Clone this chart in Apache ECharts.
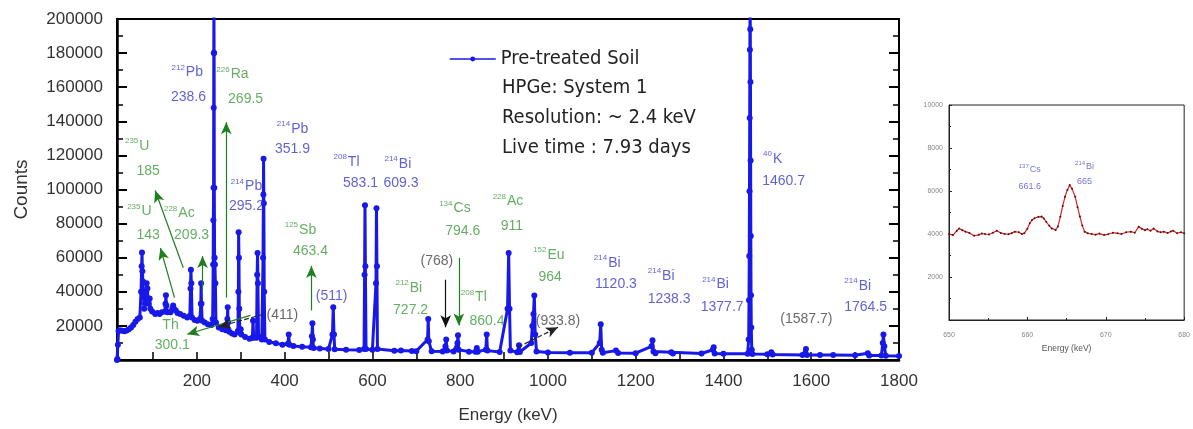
<!DOCTYPE html>
<html>
<head>
<meta charset="utf-8">
<script src="https://cdn.jsdelivr.net/npm/echarts@6/dist/echarts.min.js"></script>
<style>
  html, body { margin: 0; padding: 0; background: #fff; }
  #chart { width: 1193px; height: 429px; }
</style>
</head>
<body>
<div id="chart"></div>
<script>
// spectrum, [energy keV, counts]
const spectrumLow = [
  [18, 0], [19, 600], [20, 9000], [21.5, 17000], [25, 17500], [30, 17200], [35, 16800], [40, 17300],
  [45, 18000], [50, 19000], [55, 20500], [60, 22500], [65, 24000], [70, 25000], [72.8, 40000],
  [74.2, 55000], [75, 63000], [75.8, 52000], [77.1, 46000], [78.5, 38000], [80, 30000], [82, 33000],
  [84.5, 40000], [85.5, 45000], [87.3, 42000], [88.5, 36000], [90, 33000], [92.5, 36000], [94, 30000],
  [98, 28500], [105, 27000], [110, 27500], [115, 27000], [120, 28000], [127, 28500], [128.5, 33000],
  [129.5, 38000], [130.5, 32000], [133, 28000], [140, 28000], [144, 30000], [146, 32000], [148, 30000],
  [152, 29000], [156, 27500], [162, 27000], [170, 26000], [178, 25000], [184, 26000], [185.5, 42000],
  [186.4, 53000], [187.4, 45000], [189, 25000], [195, 23500], [201, 23000], [207, 24000], [209, 33000],
  [209.7, 45000], [210.5, 33000], [212, 23000], [218, 22000], [225, 21000], [233, 20500], [236, 24000],
  [237.2, 56000], [237.6, 82000], [238.1, 101000], [238.4, 148000], [238.6, 180000], [238.8, 215000],
  [239.3, 180000], [239.7, 101000], [240.4, 60000], [241.2, 56000], [242.2, 45000], [243.5, 22000]
];
const spectrumMid = [
  [250, 19000], [258, 18000], [266, 17500], [269.5, 24000], [270.3, 31000], [271, 22000], [274, 16500],
  [280, 15500], [286, 15000], [293.5, 17000], [294.6, 40000], [295.2, 75000], [295.9, 60000],
  [296.7, 30000], [298, 16000], [300, 18000], [301.5, 15000], [310, 13500], [320, 12500], [326.5, 13000],
  [328, 23000], [329.5, 13000], [336, 13000], [337.4, 50000], [338.3, 62800], [339.1, 45000],
  [340.5, 14000], [348, 12000], [350.8, 60000], [351.6, 97000], [352, 118000], [352.6, 92000],
  [353.5, 40000], [355, 12000], [365, 10500], [380, 9800], [395, 9000], [407.5, 9500], [409.3, 15000],
  [411, 9000], [420, 8200], [440, 7800], [460, 7500], [462.2, 14000], [463.3, 21500], [464.4, 12000],
  [466, 7000], [480, 6800], [500, 6500], [509, 15000], [510.8, 31000], [512.5, 15000], [514, 6300],
  [540, 6000], [570, 5800], [581, 6500], [582.2, 50000], [583.1, 90700], [584, 55000], [585.5, 6500],
  [600, 6000], [608.2, 45000], [609.3, 89000], [610.3, 55000], [611.5, 6500], [650, 5400], [665, 5500],
  [690, 5300]
];
const spectrumHigh = [
  [700, 5200], [725.8, 12000], [727.2, 24000], [728.5, 11000], [735, 5100], [760, 5000], [766.5, 8000],
  [768.2, 12000], [769.8, 5500], [785, 5000], [793.8, 10000], [795, 14500], [796.5, 6000], [820, 4900],
  [835, 4900], [838, 7000], [840, 4900], [858.5, 6000], [860.5, 15000], [862.2, 5500], [890, 4700],
  [908, 30000], [910.5, 62800], [912.5, 30000], [914.5, 5500], [930, 4600], [934, 8700], [936, 4700],
  [962, 10000], [964.5, 20000], [967, 27000], [969, 37800], [971, 15000], [974, 5000], [1000, 4400],
  [1050, 4300], [1100, 4300], [1118, 10000], [1120.3, 21000], [1122.5, 6000], [1125, 4200],
  [1155, 5500], [1160, 4100], [1200, 4000], [1236, 8000], [1238.3, 11600], [1240.5, 5000], [1245, 3900],
  [1281, 4500], [1285, 3800], [1350, 3800], [1376, 6000], [1377.7, 7500], [1380, 3800], [1400, 3700],
  [1455, 3700], [1457.5, 12000], [1458.2, 35000], [1458.8, 61000], [1459.3, 99000], [1459.8, 142000],
  [1460.2, 182000], [1460.7, 215000], [1461.1, 194000], [1461.5, 163000], [1461.9, 117000],
  [1462.3, 72700], [1462.8, 38000], [1463.4, 19000], [1464.5, 6000], [1466, 3500], [1500, 3300],
  [1509, 4500], [1512, 3200], [1580, 3000], [1588, 6400], [1590.5, 3000], [1620, 2900], [1650, 3000],
  [1700, 2800], [1729, 4000], [1732, 2700], [1760, 2700], [1763, 10000], [1764.5, 15000],
  [1766.5, 8000], [1770, 2500], [1800, 2400]
];

// inset: zoom on 650-680 keV
const insetSpectrum = [
  [650, 4000], [650.5, 3950], [651, 4150], [651.3, 4260], [651.7, 4180], [652.1, 4110], [652.6, 4050],
  [653.2, 3920], [653.8, 3960], [654.2, 4020], [654.6, 4000], [655.1, 3980], [655.6, 4060], [656.1, 4150],
  [656.6, 4050], [657.1, 4000], [657.6, 3990], [658, 4040], [658.4, 4110], [658.9, 4080], [659.3, 4000],
  [659.6, 4030], [660, 4250], [660.3, 4500], [660.6, 4650], [660.9, 4730], [661.4, 4800], [661.8, 4810],
  [662.1, 4720], [662.4, 4570], [662.8, 4380], [663.1, 4260], [663.6, 4190], [663.9, 4350], [664.2, 4800],
  [664.5, 5300], [664.8, 5730], [665.1, 6050], [665.4, 6280], [665.7, 6100], [666.1, 5730], [666.4, 5250],
  [666.7, 4810], [667, 4400], [667.3, 4110], [667.7, 4030], [668.2, 4000], [668.7, 3970], [669.2, 4020],
  [669.8, 3950], [670.3, 3990], [670.9, 4060], [671.5, 4030], [672, 4000], [672.6, 4080], [673.2, 4110],
  [673.7, 4060], [674.2, 4340], [674.6, 4250], [675, 4180], [675.3, 4220], [675.7, 4150], [676.1, 4260],
  [676.6, 4120], [677, 4080], [677.4, 4110], [677.9, 4050], [678.3, 4120], [678.6, 4150], [679.1, 4040],
  [679.6, 4080], [680, 4030]
];

// peak labels: [energy, counts, superscript, text]
const blueNotes = [
  [178, 168600, '212', 'Pb'], [181, 154100, '', '238.6'],
  [418, 135500, '214', 'Pb'], [418, 123800, '', '351.9'],
  [313, 101700, '214', 'Pb'], [313, 90100, '', '295.2'],
  [541, 116300, '208', 'Tl'], [573, 103500, '', '583.1'],
  [658, 115100, '214', 'Bi'], [665, 103500, '', '609.3'],
  [507, 37200, '', '(511)'],
  [1135, 57000, '214', 'Bi'], [1155, 44200, '', '1120.3'],
  [1258, 49400, '214', 'Bi'], [1276, 35500, '', '1238.3'],
  [1382, 44200, '214', 'Bi'], [1397, 30800, '', '1377.7'],
  [1706, 43600, '214', 'Bi'], [1724, 30800, '', '1764.5'],
  [1512, 118000, '40', 'K'], [1537, 104700, '', '1460.7']
];
const greenNotes = [
  [64, 125600, '235', 'U'], [89, 111000, '', '185'],
  [69, 87200, '235', 'U'], [89, 73300, '', '143'],
  [160, 86000, '228', 'Ac'], [188, 73300, '', '209.3'],
  [281, 167400, '226', 'Ra'], [311, 152900, '', '269.5'],
  [436, 76200, '125', 'Sb'], [459, 64000, '', '463.4'],
  [683, 42400, '212', 'Bi'], [687, 29100, '', '727.2'],
  [788, 88900, '134', 'Cs'], [806, 75600, '', '794.6'],
  [909, 93000, '228', 'Ac'], [918, 78500, '', '911'],
  [1002, 61600, '152', 'Eu'], [1005, 48800, '', '964'],
  [831, 36600, '208', 'Tl'], [861, 22700, '', '860.4'],
  [140, 20300, '', 'Th'], [144, 8700, '', '300.1']
];
const greyNotes = [
  [395, 26200, '', '(411)'], [747, 58100, '', '(768)'],
  [1023, 22700, '', '(933.8)'], [1589, 23800, '', '(1587.7)']
];
const insetNotes = [
  [660.3, 6980, '137', 'Cs'], [660.3, 6190, '', '661.6'],
  [667.3, 7120, '214', 'Bi'], [667.3, 6420, '', '665']
];

// arrows: [from, to], head at "to"
const greenArrows = [
  [[169, 54100], [105, 99400]], [[149, 36600], [117, 65700]], [[213, 40700], [213, 61000]],
  [[267, 36600], [267, 139500]], [[461, 29100], [461, 55200]], [[322, 26200], [178, 15100]],
  [[797, 59900], [797, 20300]]
];
const blackArrows = [[[767, 47100], [767, 19200]]];
const dashedArrows = [[[932, 7600], [1023, 19200]], [[350, 26700], [250, 19500]]];

const xLabels = [200, 400, 600, 800, 1000, 1200, 1400, 1600, 1800];
const xTicks = [100, 200, 300, 400, 500, 600, 700, 800, 900, 1000, 1100, 1200, 1300, 1400, 1500, 1600, 1700, 1800];

const sans = '"Liberation Sans", Arial, sans-serif';
const narrow = '"Liberation Sans Narrow", "DejaVu Sans Condensed", "Liberation Sans", sans-serif';
const plain = v => String(v);

const noteSeries = (notes, color, xi, yi, big, small) => ({
  type: 'scatter',
  xAxisIndex: xi,
  yAxisIndex: yi,
  symbolSize: 0,
  silent: true,
  z: 5,
  data: notes.map(n => ({ value: [n[0], n[1]], sup: n[2], txt: n[3] })),
  label: {
    show: true,
    position: 'inside',
    formatter: p => (p.data.sup ? '{s|' + p.data.sup + '}' : '') + '{n|' + p.data.txt + '}',
    rich: {
      s: { fontSize: small, color: color, fontFamily: sans, padding: [0, 1, small + 2, 0] },
      n: { fontSize: big, color: color, fontFamily: sans }
    }
  }
});

const arrowSeries = (arrows, color, type) => ({
  type: 'line',
  data: [],
  silent: true,
  markLine: {
    silent: true,
    animation: false,
    symbol: ['none', 'arrow'],
    symbolSize: [8, 12],
    label: { show: false },
    lineStyle: { color: color, width: 1.2, type: type },
    data: arrows.map(a => [{ coord: a[0] }, { coord: a[1] }])
  }
});

const chart = echarts.init(document.getElementById('chart'));

const option = {
  animation: false,
  backgroundColor: '#fff',
  legend: {
    data: ['Pre-treated Soil'],
    left: 444,
    top: 44,
    itemWidth: 46,
    itemHeight: 6,
    itemGap: 8,
    lineStyle: { width: 1.5 },
    textStyle: { fontSize: 20, color: '#222', fontFamily: narrow }
  },
  title: {
    text: 'HPGe: System 1\nResolution: ~ 2.4 keV\nLive time : 7.93 days',
    left: 497,
    top: 68,
    textStyle: { fontSize: 20, fontWeight: 'normal', color: '#222', lineHeight: 30, fontFamily: narrow }
  },
  grid: [
    { left: 117, top: 19, right: 294, bottom: 66, show: true, borderColor: '#000', borderWidth: 2 },
    { left: 949, top: 105, right: 6, bottom: 109, show: true, borderColor: '#222', borderWidth: 1 }
  ],
  xAxis: [
    {
      type: 'value', gridIndex: 0, min: 18, max: 1800,
      name: 'Energy (keV)', nameLocation: 'middle', nameGap: 47,
      nameTextStyle: { fontSize: 17, color: '#333', fontFamily: sans },
      axisLine: { lineStyle: { color: '#000', width: 2.5 } },
      axisTick: { inside: true, length: 8, customValues: xTicks, lineStyle: { color: '#000', width: 1.5 } },
      axisLabel: { customValues: xLabels, fontSize: 17, color: '#333', margin: 13, fontFamily: sans, formatter: plain },
      splitLine: { show: false }
    },
    {
      type: 'value', gridIndex: 1, min: 650, max: 680, interval: 10,
      name: 'Energy (keV)', nameLocation: 'middle', nameGap: 18,
      nameTextStyle: { fontSize: 8.5, color: '#555', fontFamily: sans },
      axisLine: { lineStyle: { color: '#222', width: 1 } },
      axisTick: { inside: true, length: 3, lineStyle: { color: '#222' } },
      minorTick: { show: true, splitNumber: 2, length: 2, lineStyle: { color: '#222' } },
      axisLabel: { fontSize: 7, color: '#888', margin: 12, fontFamily: sans, formatter: plain },
      splitLine: { show: false }
    }
  ],
  yAxis: [
    {
      type: 'value', gridIndex: 0, min: 0, max: 200000, interval: 20000,
      name: 'Counts', nameLocation: 'middle', nameGap: 86,
      nameTextStyle: { fontSize: 19, color: '#333', fontFamily: sans },
      axisLine: { lineStyle: { color: '#000', width: 2.5 } },
      axisTick: { inside: true, length: 10, lineStyle: { color: '#000', width: 2 } },
      minorTick: { show: true, splitNumber: 2, length: 6, lineStyle: { color: '#000', width: 1.5 } },
      axisLabel: { fontSize: 17, color: '#333', margin: 14, showMinLabel: false, fontFamily: sans, formatter: plain },
      splitLine: { show: false }
    },
    {
      type: 'value', gridIndex: 0, position: 'right', min: 0, max: 200000, interval: 20000,
      axisLine: { show: true, lineStyle: { color: '#000', width: 2 } },
      axisTick: { inside: true, length: 10, lineStyle: { color: '#000', width: 2 } },
      minorTick: { show: true, splitNumber: 2, length: 6, lineStyle: { color: '#000', width: 1.5 } },
      axisLabel: { show: false },
      splitLine: { show: false }
    },
    {
      type: 'value', gridIndex: 1, min: 0, max: 10000, interval: 2000,
      axisLine: { lineStyle: { color: '#222', width: 1 } },
      axisTick: { inside: true, length: 3, lineStyle: { color: '#222' } },
      minorTick: { show: true, splitNumber: 2, length: 2, lineStyle: { color: '#222' } },
      axisLabel: { fontSize: 7, color: '#888', margin: 6, showMinLabel: false, fontFamily: sans, formatter: plain },
      splitLine: { show: false }
    }
  ],
  series: [
    {
      name: 'Pre-treated Soil',
      type: 'line',
      xAxisIndex: 0,
      yAxisIndex: 0,
      data: spectrumLow.concat(spectrumMid, spectrumHigh),
      symbol: 'circle',
      symbolSize: 6,
      color: '#1818e8',
      lineStyle: { width: 3, color: '#1818e8' },
      itemStyle: { color: '#1818e8' },
      z: 3
    },
    {
      name: 'inset',
      type: 'line',
      xAxisIndex: 1,
      yAxisIndex: 2,
      data: insetSpectrum,
      symbol: 'circle',
      symbolSize: 2,
      lineStyle: { width: 1.2, color: '#e02020' },
      itemStyle: { color: '#5a1010' }
    },
    noteSeries(blueNotes, '#3a3ac8', 0, 0, 14, 8),
    noteSeries(greenNotes, '#3c9a3c', 0, 0, 14, 8),
    noteSeries(greyNotes, '#444', 0, 0, 14, 8),
    noteSeries(insetNotes, '#5050cc', 1, 2, 9, 6),
    arrowSeries(greenArrows, '#1f7f1f', 'solid'),
    arrowSeries(blackArrows, '#111', 'solid'),
    arrowSeries(dashedArrows, '#222', 'dashed')
  ]
};

chart.setOption(option);
</script>
</body>
</html>
